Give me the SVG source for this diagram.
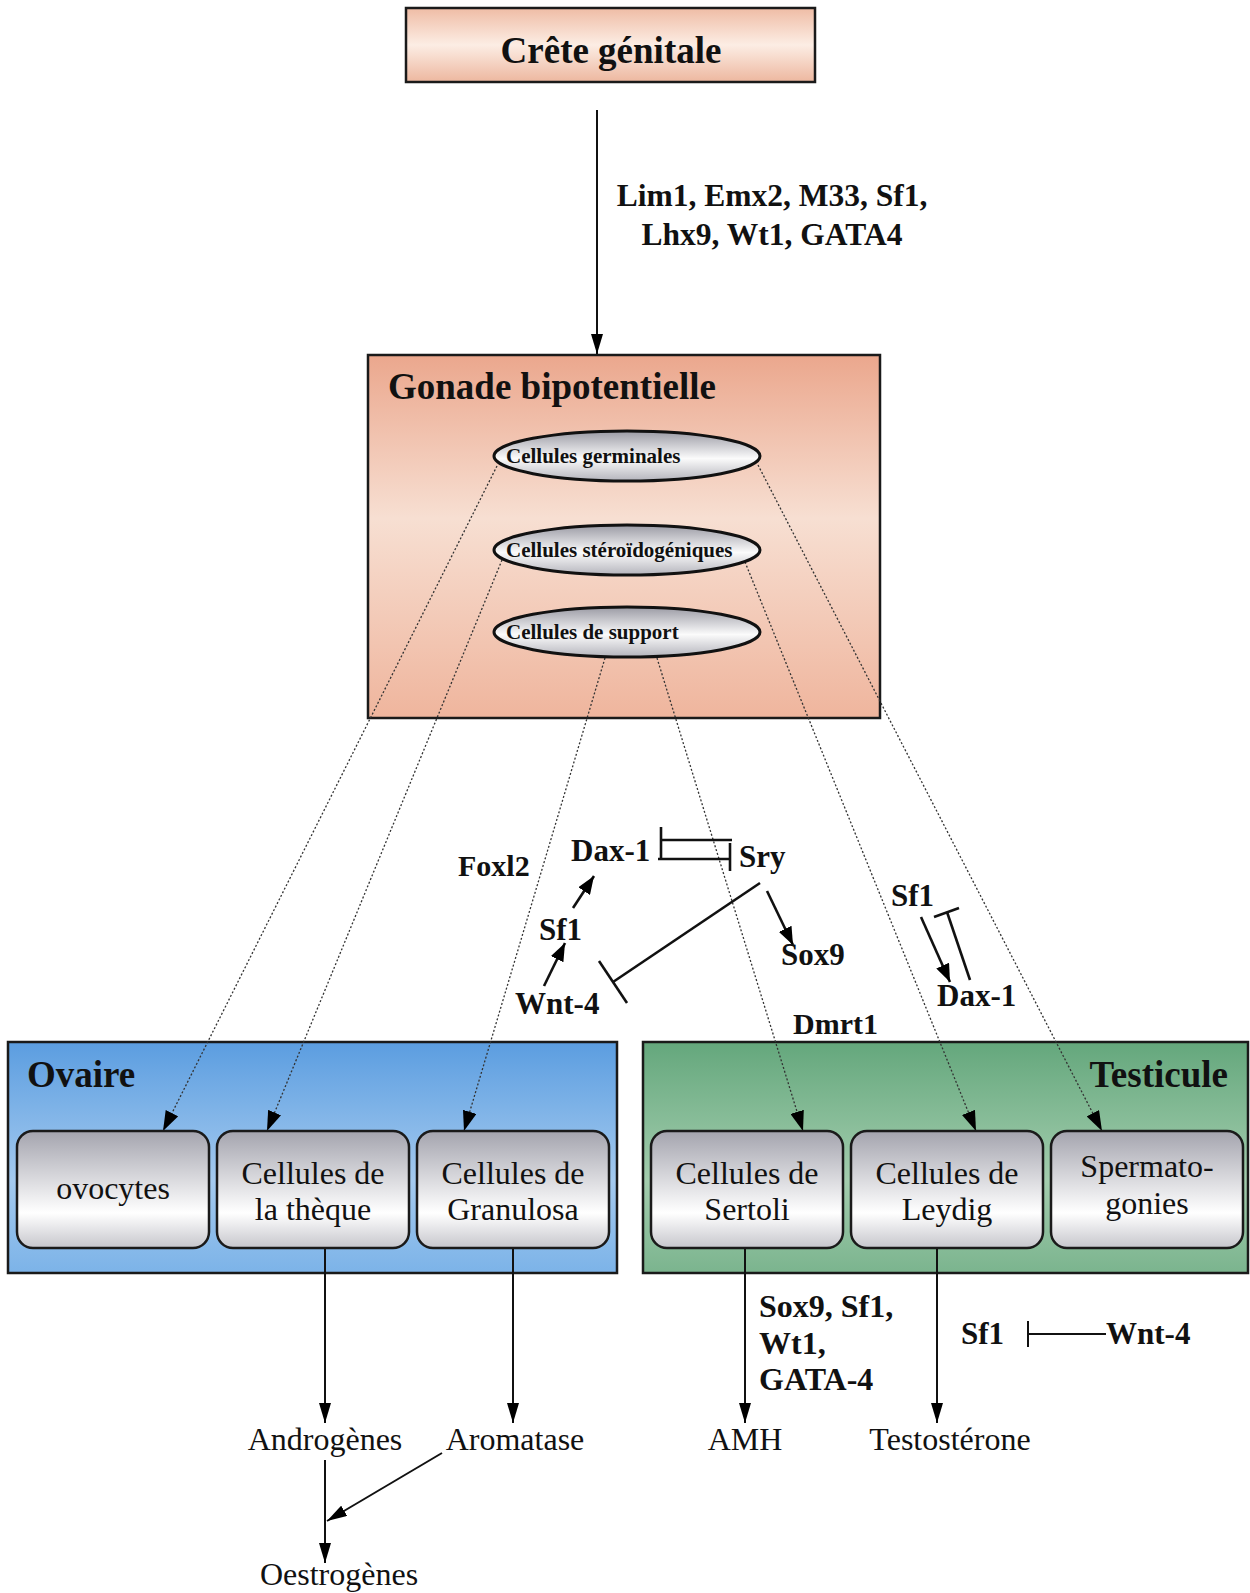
<svg xmlns="http://www.w3.org/2000/svg" width="1250" height="1593" viewBox="0 0 1250 1593">
<style>
.b{font-family:"Liberation Serif","Times New Roman",serif;font-weight:bold;fill:#111}
.r{font-family:"Liberation Serif","Times New Roman",serif;fill:#111}
.box{stroke:#1a1a1a;stroke-width:2.5}
.cell{fill:url(#gCell);stroke:#1a1a1a;stroke-width:2.5}
.ell{fill:url(#gEll);stroke:#111;stroke-width:3}
.dot{fill:none;stroke:#333;stroke-width:1.3;stroke-dasharray:2 2}
.sol{fill:none;stroke:#111;stroke-width:2}
.net{fill:none;stroke:#111;stroke-width:2.6}
.cl{font-size:32px;text-anchor:middle}
</style>
<defs>
<linearGradient id="gCrete" x1="0" y1="0" x2="0" y2="1">
<stop offset="0" stop-color="#efbca5"/><stop offset="0.5" stop-color="#fcede4"/><stop offset="1" stop-color="#edb79f"/>
</linearGradient>
<linearGradient id="gGon" x1="0" y1="0" x2="0" y2="1">
<stop offset="0" stop-color="#eba78d"/><stop offset="0.45" stop-color="#f7dfd2"/><stop offset="1" stop-color="#efb59d"/>
</linearGradient>
<linearGradient id="gOv" x1="0" y1="0" x2="0" y2="1">
<stop offset="0" stop-color="#5b9de0"/><stop offset="0.6" stop-color="#a4caef"/><stop offset="1" stop-color="#7cb3e8"/>
</linearGradient>
<linearGradient id="gTe" x1="0" y1="0" x2="0" y2="1">
<stop offset="0" stop-color="#64a77c"/><stop offset="0.6" stop-color="#a3cdae"/><stop offset="1" stop-color="#7bb48e"/>
</linearGradient>
<linearGradient id="gCell" x1="0" y1="0" x2="0" y2="1">
<stop offset="0" stop-color="#a4a4ae"/><stop offset="0.7" stop-color="#ffffff"/><stop offset="1" stop-color="#c6c6cc"/>
</linearGradient>
<linearGradient id="gEll" x1="0" y1="0" x2="0" y2="1">
<stop offset="0" stop-color="#9a9aa4"/><stop offset="0.55" stop-color="#fbfbfb"/><stop offset="1" stop-color="#b4b4bc"/>
</linearGradient>
<marker id="ad" viewBox="0 0 20 14" refX="20" refY="7" markerWidth="20" markerHeight="14" markerUnits="userSpaceOnUse" orient="auto"><path d="M0,0 L20,7 L0,14 z" fill="#000"/></marker>
<marker id="as" viewBox="0 0 20 12" refX="20" refY="6" markerWidth="20" markerHeight="12" markerUnits="userSpaceOnUse" orient="auto"><path d="M0,0 L20,6 L0,12 z" fill="#000"/></marker>
<marker id="an" viewBox="0 0 18 14" refX="18" refY="7" markerWidth="18" markerHeight="14" markerUnits="userSpaceOnUse" orient="auto"><path d="M0,0 L18,7 L0,14 z" fill="#000"/></marker>
</defs>
<rect width="1250" height="1593" fill="#fff"/>

<g id="crete">
<rect class="box" x="406" y="8" width="409" height="74" fill="url(#gCrete)"/>
<text class="b" x="611" y="63" font-size="37" text-anchor="middle">Crête génitale</text>
</g>

<g id="gonade">
<rect class="box" x="368" y="355" width="512" height="363" fill="url(#gGon)"/>
<text class="b" x="388" y="399" font-size="37">Gonade bipotentielle</text>
</g>

<g id="ovaire">
<rect class="box" x="8" y="1042" width="609" height="231" fill="url(#gOv)"/>
<text class="b" x="27" y="1087" font-size="37">Ovaire</text>
</g>

<g id="testicule">
<rect class="box" x="643" y="1042" width="605" height="231" fill="url(#gTe)"/>
<text class="b" x="1228" y="1087" font-size="37" text-anchor="end">Testicule</text>
</g>

<g id="connectors">
<line class="sol" x1="597" y1="110" x2="597" y2="354" marker-end="url(#as)"/>
<text class="b" x="772" y="206" font-size="31.5" text-anchor="middle">Lim1, Emx2, M33, Sf1,</text>
<text class="b" x="772" y="245" font-size="31.5" text-anchor="middle">Lhx9, Wt1, GATA4</text>

<line class="dot" x1="497" y1="466" x2="163" y2="1131" marker-end="url(#ad)"/>
<line class="dot" x1="502" y1="560" x2="267" y2="1131" marker-end="url(#ad)"/>
<line class="dot" x1="605" y1="658" x2="464" y2="1131" marker-end="url(#ad)"/>
<line class="dot" x1="657" y1="658" x2="803" y2="1131" marker-end="url(#ad)"/>
<line class="dot" x1="745" y1="562" x2="976" y2="1131" marker-end="url(#ad)"/>
<line class="dot" x1="758" y1="465" x2="1102" y2="1131" marker-end="url(#ad)"/>

<line class="net" x1="661" y1="827" x2="661" y2="858"/>
<line class="net" x1="661" y1="840" x2="732" y2="840"/>
<line class="net" x1="658" y1="859" x2="730" y2="859"/>
<line class="net" x1="730" y1="843" x2="730" y2="871"/>
<line class="net" x1="573" y1="908" x2="594" y2="876" marker-end="url(#an)"/>
<line class="net" x1="544" y1="986" x2="565" y2="943" marker-end="url(#an)"/>
<line class="net" x1="760" y1="883" x2="613" y2="982"/>
<line class="net" x1="599" y1="961" x2="627" y2="1003"/>
<line class="net" x1="767" y1="891" x2="793" y2="945" marker-end="url(#an)"/>
<line class="net" x1="921" y1="917" x2="950" y2="982" marker-end="url(#an)"/>
<line class="net" x1="970" y1="980" x2="947" y2="912"/>
<line class="net" x1="934" y1="917" x2="959" y2="908"/>

<line class="sol" x1="325" y1="1248" x2="325" y2="1423" marker-end="url(#as)"/>
<line class="sol" x1="513" y1="1248" x2="513" y2="1423" marker-end="url(#as)"/>
<line class="sol" x1="745" y1="1248" x2="745" y2="1423" marker-end="url(#as)"/>
<line class="sol" x1="937" y1="1248" x2="937" y2="1423" marker-end="url(#as)"/>
<line class="sol" x1="325" y1="1460" x2="325" y2="1563" marker-end="url(#as)"/>
<line class="sol" x1="442" y1="1453" x2="327" y2="1521" marker-end="url(#as)"/>
<line class="sol" x1="1028" y1="1321" x2="1028" y2="1347"/>
<line class="sol" x1="1028" y1="1334" x2="1106" y2="1334"/>
</g>

<g id="germinales">
<ellipse class="ell" cx="627" cy="456" rx="133" ry="25"/>
<text class="b" x="506" y="463" font-size="21">Cellules germinales</text>
</g>
<g id="steroidogeniques">
<ellipse class="ell" cx="627" cy="550" rx="133" ry="25"/>
<text class="b" x="506" y="557" font-size="21">Cellules stéroïdogéniques</text>
</g>
<g id="support">
<ellipse class="ell" cx="627" cy="632" rx="133" ry="25"/>
<text class="b" x="506" y="639" font-size="21">Cellules de support</text>
</g>

<g id="ovocytes">
<rect class="cell" x="17" y="1131" width="192" height="117" rx="16"/>
<text class="r cl" x="113" y="1199">ovocytes</text>
</g>
<g id="theque">
<rect class="cell" x="217" y="1131" width="192" height="117" rx="16"/>
<text class="r cl" x="313" y="1184">Cellules de</text>
<text class="r cl" x="313" y="1220">la thèque</text>
</g>
<g id="granulosa">
<rect class="cell" x="417" y="1131" width="192" height="117" rx="16"/>
<text class="r cl" x="513" y="1184">Cellules de</text>
<text class="r cl" x="513" y="1220">Granulosa</text>
</g>
<g id="sertoli">
<rect class="cell" x="651" y="1131" width="192" height="117" rx="16"/>
<text class="r cl" x="747" y="1184">Cellules de</text>
<text class="r cl" x="747" y="1220">Sertoli</text>
</g>
<g id="leydig">
<rect class="cell" x="851" y="1131" width="192" height="117" rx="16"/>
<text class="r cl" x="947" y="1184">Cellules de</text>
<text class="r cl" x="947" y="1220">Leydig</text>
</g>
<g id="spermatogonies">
<rect class="cell" x="1051" y="1131" width="192" height="117" rx="16"/>
<text class="r cl" x="1147" y="1177">Spermato-</text>
<text class="r cl" x="1147" y="1214">gonies</text>
</g>

<g id="genes">
<text class="b" x="458" y="876" font-size="30">Foxl2</text>
<text class="b" x="571" y="861" font-size="31">Dax-1</text>
<text class="b" x="739" y="867" font-size="31">Sry</text>
<text class="b" x="539" y="940" font-size="31">Sf1</text>
<text class="b" x="515" y="1014" font-size="31">Wnt-4</text>
<text class="b" x="781" y="965" font-size="31">Sox9</text>
<text class="b" x="793" y="1034" font-size="30">Dmrt1</text>
<text class="b" x="891" y="906" font-size="31">Sf1</text>
<text class="b" x="937" y="1006" font-size="31">Dax-1</text>
<text class="b" x="759" y="1317" font-size="32">Sox9, Sf1,</text>
<text class="b" x="759" y="1354" font-size="32">Wt1,</text>
<text class="b" x="759" y="1390" font-size="32">GATA-4</text>
<text class="b" x="961" y="1344" font-size="31">Sf1</text>
<text class="b" x="1106" y="1344" font-size="31">Wnt-4</text>
</g>

<g id="products">
<text class="r" x="325" y="1450" font-size="32" text-anchor="middle">Androgènes</text>
<text class="r" x="515" y="1450" font-size="32" text-anchor="middle">Aromatase</text>
<text class="r" x="745" y="1450" font-size="32" text-anchor="middle">AMH</text>
<text class="r" x="950" y="1450" font-size="32" text-anchor="middle">Testostérone</text>
<text class="r" x="339" y="1585" font-size="32" text-anchor="middle">Oestrogènes</text>
</g>
</svg>
